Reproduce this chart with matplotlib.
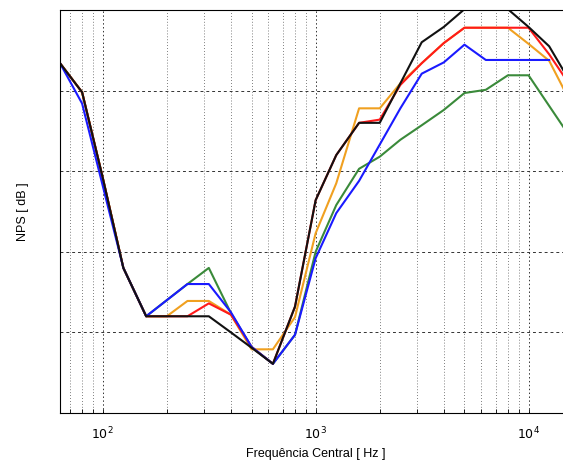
import numpy as np
import matplotlib
matplotlib.use('Agg')
import matplotlib.pyplot as plt
from matplotlib.ticker import FixedLocator, LogLocator, NullFormatter

plt.rcParams['font.family'] = ['Liberation Sans', 'DejaVu Sans']

# bandas de 1/3 de oitava
freq = [63, 80, 100, 125, 160, 200, 250, 315, 400, 500, 630, 800, 1000,
        1250, 1600, 2000, 2500, 3150, 4000, 5000, 6300, 8000, 10000, 12500, 16000]

nps_verde = [63.4, 59.8, 49.2, 38.0, 32.0, 34.0, 36.0, 38.0, 32.4, 28.2, 26.1, 29.7, 40.0,
             45.8, 50.3, 51.8, 53.9, 55.7, 57.6, 59.7, 60.1, 61.9, 61.9, 58.1, 53.9]
nps_laranja = [63.4, 59.8, 49.2, 38.0, 32.0, 32.0, 33.9, 33.9, 32.2, 27.9, 27.9, 31.9, 42.3,
               48.5, 57.8, 57.8, 60.9, 63.4, 65.9, 67.8, 67.8, 67.8, 65.8, 63.7, 58.2]
nps_vermelho = [63.4, 59.8, 49.2, 38.0, 32.0, 32.0, 32.0, 33.6, 32.2, 28.2, 26.1, 33.2, 46.4,
                52.0, 56.0, 56.4, 60.7, 63.4, 65.9, 67.8, 67.8, 67.8, 67.8, 64.5, 60.3]
nps_azul = [63.4, 58.4, 48.2, 38.0, 32.0, 34.0, 36.0, 36.0, 32.5, 28.2, 26.1, 29.7, 39.2,
            44.8, 48.8, 53.3, 57.8, 62.1, 63.5, 65.7, 63.8, 63.8, 63.8, 63.8, np.nan]
nps_preto = [63.4, 59.8, 49.2, 38.0, 32.0, 32.0, 32.0, 32.0, 30.0, 28.1, 26.1, 33.2, 46.4,
             52.0, 56.0, 56.0, 60.9, 66.0, 67.9, 70.1, 71.2, 70.1, 67.9, 65.5, 60.7]

fig = plt.figure(figsize=(5.63, 4.61), dpi=100)
ax = fig.add_axes([60/563, 48/461, 512/563, 403/461])

ax.semilogx(freq, nps_verde, color='#3a8a3a', lw=1.5)
ax.semilogx(freq, nps_laranja, color='#f0a020', lw=1.5)
ax.semilogx(freq, nps_vermelho, color='#ff1a1a', lw=1.5)
ax.semilogx(freq, nps_azul, color='#1a1aff', lw=1.5)
ax.semilogx(freq, nps_preto, color='#111111', lw=1.5)

ax.set_xlim(63, 16000)
ax.set_ylim(20, 70)
ax.xaxis.set_major_locator(FixedLocator([100, 1000, 10000]))
ax.set_xticklabels(['$10^2$', '$10^3$', '$10^4$'], fontsize=9)
ax.xaxis.set_minor_locator(LogLocator(base=10, subs=np.arange(2, 10)))
ax.xaxis.set_minor_formatter(NullFormatter())
ax.set_yticks([30, 40, 50, 60])
ax.set_yticklabels([])
ax.tick_params(which='both', direction='in', length=3, width=0.6)
ax.tick_params(axis='x', pad=9)
ax.tick_params(axis='y', length=0)

ax.grid(which='major', axis='y', ls=(0, (3, 3)), color='#333333', lw=0.7)
ax.grid(which='major', axis='x', ls=(0, (1.5, 2.5)), color='#333333', lw=0.7)
ax.grid(which='minor', axis='x', ls=(0, (1, 2.5)), color='#555555', lw=0.6)

ax.set_xlabel('Frequência Central [ Hz ]', fontsize=9, labelpad=4)
ax.set_ylabel('NPS [ dB ]', fontsize=9, labelpad=19)
for s in ax.spines.values():
    s.set_linewidth(0.8)

fig.savefig('out.png', dpi=100)
